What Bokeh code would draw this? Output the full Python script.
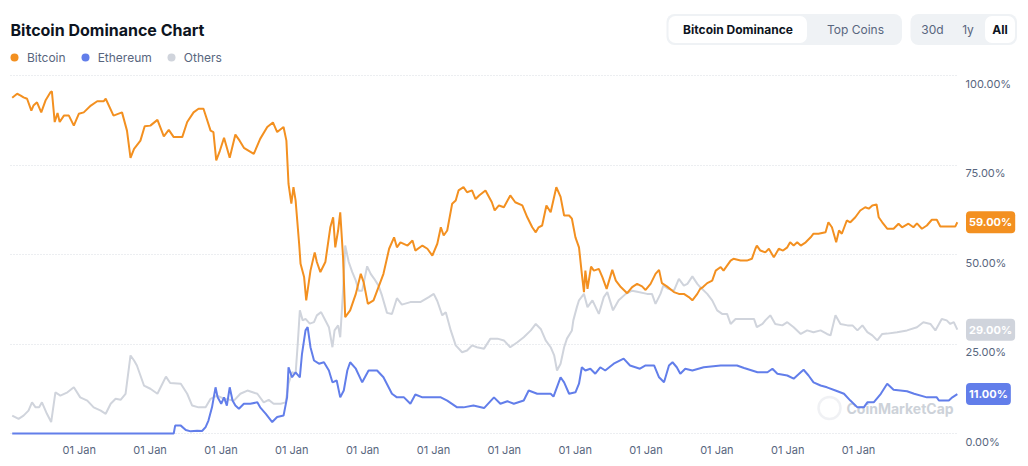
from bokeh.plotting import figure
from bokeh.models import FixedTicker, Legend, LegendItem, Label, BoxAnnotation, Range1d, Grid
from bokeh.core.properties import value
from bokeh.embed import file_html
from bokeh.resources import INLINE

# ---------------- data (decimal year, dominance %) ----------------
btc_t = [2013.29, 2013.36, 2013.41, 2013.45, 2013.50, 2013.56, 2013.59, 2013.64, 2013.70, 2013.76,
         2013.83, 2013.85, 2013.89, 2013.93, 2013.96, 2014.02, 2014.09, 2014.16, 2014.23, 2014.30,
         2014.40, 2014.49, 2014.58, 2014.61, 2014.72, 2014.84, 2014.91, 2014.96, 2015.01, 2015.10,
         2015.16, 2015.24, 2015.34, 2015.43, 2015.50, 2015.57, 2015.69, 2015.76, 2015.85, 2015.92,
         2015.99, 2016.09, 2016.13, 2016.17, 2016.22, 2016.28, 2016.36, 2016.44, 2016.50, 2016.56,
         2016.70, 2016.79, 2016.89, 2016.97, 2017.03, 2017.12, 2017.16, 2017.19, 2017.23, 2017.26,
         2017.29, 2017.34, 2017.36, 2017.41, 2017.44, 2017.50, 2017.56, 2017.59, 2017.64, 2017.71,
         2017.78, 2017.82, 2017.85, 2017.89, 2017.92, 2017.96, 2017.99, 2018.06, 2018.14, 2018.21,
         2018.25, 2018.31, 2018.39, 2018.46, 2018.53, 2018.61, 2018.68, 2018.72, 2018.77, 2018.87,
         2018.94, 2018.98, 2019.08, 2019.15, 2019.22, 2019.29, 2019.34, 2019.38, 2019.43, 2019.50,
         2019.55, 2019.59, 2019.66, 2019.71, 2019.78, 2019.83, 2019.88, 2019.97, 2020.06, 2020.10,
         2020.16, 2020.23, 2020.32, 2020.39, 2020.49, 2020.56, 2020.63, 2020.68, 2020.72, 2020.77,
         2020.83, 2020.89, 2020.97, 2021.03, 2021.08, 2021.15, 2021.19, 2021.24, 2021.29, 2021.33,
         2021.36, 2021.38, 2021.41, 2021.46, 2021.50, 2021.57, 2021.62, 2021.68, 2021.76, 2021.81,
         2021.88, 2021.97, 2022.04, 2022.11, 2022.18, 2022.23, 2022.30, 2022.37, 2022.42, 2022.46,
         2022.53, 2022.63, 2022.70, 2022.77, 2022.84, 2022.89, 2022.96, 2023.00, 2023.04, 2023.10,
         2023.17, 2023.22, 2023.29, 2023.33, 2023.38, 2023.43, 2023.47, 2023.57, 2023.66, 2023.73,
         2023.78, 2023.80, 2023.85, 2023.92, 2023.97, 2024.04, 2024.11, 2024.17, 2024.23, 2024.27,
         2024.32, 2024.37, 2024.42, 2024.49, 2024.56, 2024.60, 2024.67, 2024.77, 2024.81, 2024.86,
         2024.92, 2024.96, 2025.00, 2025.07, 2025.12, 2025.19, 2025.26, 2025.33, 2025.38, 2025.43,
         2025.49, 2025.52, 2025.57, 2025.64, 2025.73, 2025.80, 2025.85, 2025.94, 2026.01, 2026.06,
         2026.13, 2026.20, 2026.27, 2026.34, 2026.39, 2026.53, 2026.60, 2026.63]
btc_v = [93.8, 94.9, 94.4, 93.9, 93.5, 90.2, 91.6, 92.5, 89.7, 93.0,
         95.3, 95.6, 87.0, 89.5, 87.0, 88.8, 88.8, 86.0, 89.3, 89.7,
         91.6, 92.8, 92.8, 93.5, 88.8, 89.7, 84.6, 77.0, 79.5, 81.8,
         85.8, 86.0, 87.6, 83.0, 84.8, 82.8, 82.8, 87.0, 89.7, 90.7,
         90.7, 84.6, 84.2, 76.3, 78.9, 82.6, 77.0, 83.5, 81.8, 79.8,
         78.1, 82.3, 85.6, 86.9, 84.2, 85.6, 81.8, 69.7, 64.2, 68.8,
         65.1, 53.0, 47.4, 43.7, 37.2, 45.5, 50.6, 47.9, 45.1, 47.9,
         57.6, 60.4, 52.0, 56.7, 61.8, 49.2, 32.5, 34.4, 39.0, 44.6,
         42.3, 36.2, 37.2, 40.9, 44.6, 51.6, 54.8, 52.0, 53.4, 52.5,
         53.9, 51.1, 52.5, 51.6, 49.7, 53.0, 57.6, 55.3, 56.7, 64.2,
         65.1, 67.9, 68.8, 67.4, 67.9, 65.5, 66.5, 67.9, 64.6, 62.3,
         63.7, 63.2, 66.5, 64.6, 63.7, 60.4, 57.6, 56.2, 57.6, 58.1,
         63.7, 61.8, 68.8, 66.1, 60.9, 60.9, 60.0, 54.8, 52.0, 44.6,
         39.5, 45.5, 40.4, 46.6, 45.5, 46.0, 43.7, 40.4, 45.7, 42.7,
         40.9, 39.2, 40.9, 41.8, 41.1, 40.1, 41.8, 44.6, 45.7, 42.0,
         41.1, 39.5, 39.0, 39.0, 38.1, 37.2, 39.0, 40.4, 40.9, 42.0,
         42.7, 45.5, 46.5, 45.5, 46.9, 48.3, 48.8, 48.3, 48.3, 48.8,
         51.6, 52.5, 51.1, 50.6, 51.6, 49.2, 51.6, 51.1, 52.0, 53.4,
         52.5, 53.4, 52.5, 53.4, 54.8, 55.8, 55.8, 56.2, 59.0, 57.6,
         53.4, 56.7, 55.8, 59.5, 59.0, 60.4, 62.3, 63.2, 62.8, 63.7,
         64.0, 60.4, 59.0, 57.2, 57.2, 58.6, 57.6, 58.6, 57.6, 58.7,
         57.2, 58.1, 59.7, 59.7, 57.8, 57.8, 57.8, 59.0]

eth_t = [2013.29, 2015.57, 2015.59, 2015.67, 2015.74, 2015.81, 2015.90, 2015.97, 2016.02, 2016.06,
         2016.11, 2016.16, 2016.19, 2016.24, 2016.28, 2016.32, 2016.36, 2016.40, 2016.44, 2016.49,
         2016.56, 2016.65, 2016.75, 2016.79, 2016.87, 2016.96, 2017.03, 2017.12, 2017.17, 2017.19,
         2017.24, 2017.29, 2017.35, 2017.38, 2017.43, 2017.46, 2017.50, 2017.55, 2017.62, 2017.69,
         2017.76, 2017.81, 2017.87, 2017.92, 2017.97, 2018.02, 2018.06, 2018.14, 2018.23, 2018.32,
         2018.44, 2018.53, 2018.65, 2018.72, 2018.82, 2018.91, 2018.98, 2019.08, 2019.19, 2019.34,
         2019.43, 2019.57, 2019.66, 2019.80, 2019.95, 2020.09, 2020.18, 2020.28, 2020.37, 2020.51,
         2020.58, 2020.70, 2020.89, 2020.93, 2021.03, 2021.08, 2021.15, 2021.24, 2021.29, 2021.33,
         2021.38, 2021.45, 2021.52, 2021.59, 2021.66, 2021.78, 2021.92, 2022.01, 2022.15, 2022.23,
         2022.35, 2022.42, 2022.49, 2022.56, 2022.61, 2022.67, 2022.72, 2022.79, 2022.89, 2023.05,
         2023.29, 2023.52, 2023.62, 2023.81, 2023.95, 2024.02, 2024.09, 2024.23, 2024.32, 2024.42,
         2024.46, 2024.53, 2024.60, 2024.70, 2024.79, 2024.91, 2025.03, 2025.12, 2025.22, 2025.31,
         2025.36, 2025.45, 2025.55, 2025.64, 2025.73, 2025.92, 2026.02, 2026.20, 2026.34, 2026.37,
         2026.51, 2026.56, 2026.63]
eth_v = [0.0, 0.0, 2.2, 2.2, 1.0, 0.6, 0.8, 0.7, 1.8, 3.6,
         7.3, 12.9, 10.1, 8.3, 10.1, 7.8, 12.9, 9.2, 7.8, 6.9,
         8.3, 8.3, 8.7, 7.3, 5.5, 3.2, 4.6, 5.0, 10.1, 18.5,
         15.7, 17.1, 15.7, 22.2, 28.8, 29.7, 24.1, 20.4, 19.5, 19.9,
         17.6, 14.3, 14.8, 10.1, 12.0, 17.6, 19.9, 18.1, 14.3, 17.6,
         17.6, 15.7, 11.1, 10.1, 10.1, 8.3, 10.9, 10.1, 10.1, 10.1,
         9.2, 7.3, 7.3, 7.8, 7.1, 10.1, 8.3, 9.0, 8.3, 9.2,
         12.0, 11.1, 11.1, 10.3, 15.7, 14.3, 11.1, 11.5, 13.9, 18.5,
         17.6, 18.1, 16.7, 18.5, 17.6, 19.5, 20.9, 19.0, 18.1, 19.0,
         19.0, 15.7, 14.3, 19.0, 19.9, 18.5, 16.7, 18.1, 17.6, 18.5,
         19.0, 19.0, 18.3, 17.1, 17.1, 18.1, 16.7, 16.2, 15.3, 17.1,
         17.8, 16.2, 14.3, 13.4, 12.9, 12.0, 11.1, 9.2, 7.3, 7.3,
         8.7, 8.7, 11.1, 13.9, 12.2, 11.8, 11.1, 10.1, 10.1, 9.2,
         9.2, 10.1, 11.0]

oth_t = [2013.29, 2013.38, 2013.45, 2013.52, 2013.57, 2013.62, 2013.67, 2013.71, 2013.78, 2013.84,
         2013.90, 2013.97, 2014.07, 2014.16, 2014.25, 2014.35, 2014.44, 2014.54, 2014.61, 2014.68,
         2014.75, 2014.82, 2014.89, 2014.96, 2015.01, 2015.05, 2015.15, 2015.24, 2015.34, 2015.41,
         2015.46, 2015.52, 2015.67, 2015.76, 2015.83, 2015.92, 2016.02, 2016.09, 2016.18, 2016.28,
         2016.42, 2016.51, 2016.61, 2016.75, 2016.84, 2016.91, 2016.98, 2017.08, 2017.15, 2017.19,
         2017.24, 2017.29, 2017.32, 2017.35, 2017.39, 2017.43, 2017.49, 2017.55, 2017.59, 2017.65,
         2017.70, 2017.76, 2017.81, 2017.84, 2017.89, 2017.92, 2017.96, 2017.99, 2018.04, 2018.09,
         2018.14, 2018.18, 2018.23, 2018.30, 2018.35, 2018.40, 2018.46, 2018.51, 2018.58, 2018.65,
         2018.72, 2018.79, 2018.91, 2019.05, 2019.17, 2019.24, 2019.29, 2019.36, 2019.41, 2019.48,
         2019.55, 2019.64, 2019.71, 2019.78, 2019.85, 2019.95, 2020.04, 2020.14, 2020.23, 2020.32,
         2020.42, 2020.51, 2020.61, 2020.68, 2020.75, 2020.82, 2020.89, 2020.94, 2020.98, 2021.03,
         2021.08, 2021.12, 2021.19, 2021.21, 2021.26, 2021.29, 2021.36, 2021.41, 2021.48, 2021.57,
         2021.64, 2021.69, 2021.77, 2021.85, 2021.95, 2022.04, 2022.13, 2022.25, 2022.32, 2022.37,
         2022.44, 2022.48, 2022.55, 2022.63, 2022.70, 2022.77, 2022.82, 2022.89, 2022.96, 2023.00,
         2023.10, 2023.17, 2023.24, 2023.31, 2023.38, 2023.43, 2023.50, 2023.66, 2023.76, 2023.80,
         2023.88, 2023.92, 2023.99, 2024.06, 2024.16, 2024.23, 2024.32, 2024.42, 2024.51, 2024.60,
         2024.70, 2024.79, 2024.84, 2024.91, 2024.98, 2025.08, 2025.15, 2025.22, 2025.29, 2025.36,
         2025.43, 2025.50, 2025.57, 2025.64, 2025.78, 2025.92, 2026.06, 2026.15, 2026.25, 2026.32,
         2026.41, 2026.48, 2026.53, 2026.58, 2026.63]
oth_v = [5.0, 4.1, 5.0, 6.4, 8.7, 7.3, 7.3, 8.7, 5.5, 3.2,
         11.5, 10.6, 11.5, 12.9, 10.1, 9.2, 7.3, 6.4, 5.5, 8.3,
         9.7, 9.4, 11.1, 21.8, 20.4, 19.0, 13.4, 12.5, 11.1, 13.9,
         15.9, 14.1, 13.9, 11.1, 7.8, 7.3, 7.3, 9.7, 10.6, 9.7,
         9.2, 11.1, 12.0, 11.1, 8.7, 9.4, 8.3, 8.3, 8.7, 13.9,
         17.1, 16.7, 25.0, 34.4, 31.6, 32.0, 30.7, 31.1, 33.0, 33.9,
         32.0, 29.7, 24.1, 28.8, 30.2, 26.9, 39.9, 52.5, 47.9, 45.1,
         42.7, 39.9, 39.9, 46.7, 44.6, 43.2, 41.3, 38.5, 33.7, 33.4,
         37.8, 36.0, 36.7, 36.7, 38.1, 39.0, 37.0, 33.0, 33.9, 28.8,
         24.6, 22.7, 23.2, 24.6, 24.1, 23.7, 26.5, 26.5, 26.0, 24.1,
         25.5, 26.9, 28.8, 30.6, 29.2, 26.0, 24.1, 21.8, 17.6, 19.5,
         24.1, 26.5, 28.8, 31.6, 35.3, 37.2, 39.0, 35.3, 37.2, 33.4,
         38.1, 39.5, 34.4, 37.2, 39.0, 39.9, 39.5, 39.0, 39.0, 36.2,
         39.0, 41.3, 40.4, 39.9, 43.2, 41.3, 41.8, 43.9, 41.8, 40.9,
         39.0, 37.2, 34.4, 33.4, 33.4, 30.6, 32.0, 32.0, 32.0, 29.7,
         30.6, 31.6, 33.0, 30.6, 30.2, 31.1, 29.7, 27.8, 28.8, 28.3,
         28.8, 27.8, 27.4, 33.0, 30.6, 30.2, 30.2, 28.8, 30.2, 28.3,
         27.4, 26.0, 27.8, 27.9, 28.3, 28.8, 29.7, 31.1, 30.6, 28.8,
         32.0, 31.6, 30.6, 31.1, 29.0]

series_names = ["Bitcoin", "Ethereum", "Others"]
series_colors = ["#f39020", "#627eea", "#d0d4dc"]

year_ticks = [2014, 2015, 2016, 2017, 2018, 2019, 2020, 2021, 2022, 2023, 2024, 2025]
x_tick_label = "01 Jan"
y_ticks = [0, 25, 50, 75, 100]
y_tick_labels = ["0.00%", "25.00%", "50.00%", "75.00%", "100.00%"]

title_text = "Bitcoin Dominance Chart"
tab_labels = ["Bitcoin Dominance", "Top Coins"]
range_labels = ["30d", "1y", "All"]
watermark = "CoinMarketCap"

# ---------------- layout geometry (page pixels) ----------------
W, H = 1028, 466
PX_PER_YEAR = 70.85      # horizontal scale
X_2014 = 62              # pixel where 2014-01-01 sits
PX_PER_PCT = 3.58        # vertical scale
Y_ZERO = 433             # pixel row of 0 %
PLOT_RIGHT = 958         # right end of the plotting area


def X(px):
    return 2014 + (px - X_2014) / PX_PER_YEAR


def Y(py):
    return (Y_ZERO - py) / PX_PER_PCT


TEXT = "#0d1421"
GRAY = "#58667e"
FONT = "Inter"

p = figure(width=W, height=H, x_range=Range1d(X(0), X(W)), y_range=Range1d(Y(H), Y(0)),
           output_backend="svg", toolbar_location=None, title=None,
           x_axis_type=None, y_axis_type=None,
           min_border_left=0, min_border_right=0, min_border_top=0, min_border_bottom=0)
p.outline_line_color = None
p.background_fill_color = "white"
p.border_fill_color = "white"

# horizontal dotted grid
grid = Grid(dimension=1, ticker=FixedTicker(ticks=y_ticks), grid_line_color="#d8dce2",
            grid_line_dash="1 2", grid_line_width=1)
has_cross = "cross_bounds" in Grid.properties()
if has_cross:
    grid.cross_bounds = (X(10), X(PLOT_RIGHT))
p.add_layout(grid)
if not has_cross:
    p.add_layout(BoxAnnotation(left=X(PLOT_RIGHT), fill_color="white", fill_alpha=1,
                               line_color=None, level="underlay"))

# tick labels
p.text(x=[X(PLOT_RIGHT + 7)] * len(y_ticks), y=y_ticks, text=y_tick_labels,
       text_font=value(FONT), text_font_size="11px", text_color=GRAY,
       text_align="left", text_baseline="top", y_offset=1)
p.text(x=year_ticks, y=[Y(449)] * len(year_ticks), text=[x_tick_label] * len(year_ticks),
       text_font=value(FONT), text_font_size="11px", text_color=GRAY,
       text_align="left", text_baseline="middle")

# watermark
p.add_layout(BoxAnnotation(left=X(818), right=X(840), top=Y(396.5), bottom=Y(418.5),
                           fill_color=None, line_color="#cdd2d9", line_width=2.5,
                           border_radius=11, level="underlay"))
p.add_layout(Label(x=X(846), y=Y(408), text=watermark, text_font=FONT, text_font_style="bold",
                   text_font_size="14px", text_color="#cdd2d9", text_align="left",
                   text_baseline="middle", level="underlay"))

# lines
series = [(btc_t, btc_v), (eth_t, eth_v), (oth_t, oth_v)]
for idx in (2, 1, 0):
    t, v = series[idx]
    p.line(t, v, line_color=series_colors[idx], line_width=2)

# legend (dots)
items = []
for idx in range(3):
    t, v = series[idx]
    dot = p.scatter([t[-1]], [v[-1]], size=0, marker="circle",
                    fill_color=series_colors[idx], line_color=None)
    items.append(LegendItem(label=series_names[idx], renderers=[dot]))
legend = Legend(items=items, orientation="horizontal", location=(4, H - 67),
                glyph_width=20, glyph_height=20, label_standoff=3, spacing=9,
                padding=0, margin=0, border_line_color=None, background_fill_alpha=0,
                label_text_font=FONT, label_text_font_size="12px", label_text_color=GRAY,
                label_height=20)
p.add_layout(legend)

# end-value badges
for idx in range(3):
    t, v = series[idx]
    p.add_layout(Label(x=X(965.5), y=v[-1], text=f"{v[-1]:.2f}%", text_font=FONT,
                       text_font_style="bold", text_font_size="11px", text_color="white",
                       text_align="left", text_baseline="middle",
                       background_fill_color=series_colors[idx], border_radius=4,
                       padding=(3, 4)))

# title
p.add_layout(Label(x=X(10), y=Y(29), text=title_text, text_font=FONT, text_font_style="bold",
                   text_font_size="16px", text_color=TEXT, text_align="left",
                   text_baseline="middle"))

# button groups
p.add_layout(BoxAnnotation(left=X(666), right=X(901.5), top=Y(13.5), bottom=Y(44.5),
                           fill_color="#eff2f5", fill_alpha=1, line_color=None, border_radius=8))
p.add_layout(BoxAnnotation(left=X(668), right=X(806.5), top=Y(15.5), bottom=Y(42.5),
                           fill_color="white", fill_alpha=1, line_color=None, border_radius=7))
p.add_layout(BoxAnnotation(left=X(910), right=X(1016.5), top=Y(13.5), bottom=Y(44.5),
                           fill_color="#eff2f5", fill_alpha=1, line_color=None, border_radius=8))
p.add_layout(BoxAnnotation(left=X(984.5), right=X(1014.5), top=Y(15.5), bottom=Y(42.5),
                           fill_color="white", fill_alpha=1, line_color=None, border_radius=7))

btn_x = [737.5, 855, 932, 967.5, 999.5]
btn_text = tab_labels + range_labels
btn_bold = [True, False, False, False, True]
for bx, bt, bb in zip(btn_x, btn_text, btn_bold):
    p.add_layout(Label(x=X(bx), y=Y(29), text=bt, text_font=FONT,
                       text_font_style="bold" if bb else "normal", text_font_size="12px",
                       text_color=TEXT if bb else GRAY, text_align="center",
                       text_baseline="middle"))

open("out.html", "w").write(file_html(p, INLINE))
